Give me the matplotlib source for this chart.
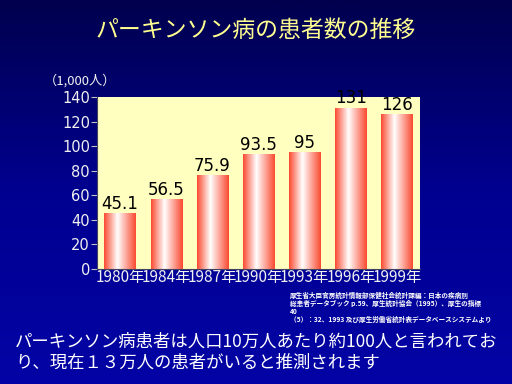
"""Parkinson's disease patient count chart (slide style)."""

import numpy as np
import matplotlib
matplotlib.use("Agg")
import matplotlib.pyplot as plt
from matplotlib.colors import LinearSegmentedColormap

plt.rcParams["font.family"] = ["Noto Sans CJK JP", "DejaVu Sans"]

years = ["1980年", "1984年", "1987年", "1990年", "1993年", "1996年", "1999年"]
patients = [45.1, 56.5, 75.9, 93.5, 95, 131, 126]
value_labels = ["45.1", "56.5", "75.9", "93.5", "95", "131", "126"]
yticks = [0, 20, 40, 60, 80, 100, 120, 140]

title = "パーキンソン病の患者数の推移"
unit = "（1,000人）"
source_lines = [
    "厚生省大臣官房統計情報部保健社会統計課編：日本の疾病別",
    "総患者データブック p.59、厚生統計協会（1995）、厚生の指標",
    "40",
    "（5）：32、1993 及び厚生労働省統計表データベースシステムより",
]
note_lines = [
    "パーキンソン病患者は人口10万人あたり約100人と言われてお",
    "り、現在１３万人の患者がいると推測されます",
]

fig = plt.figure(figsize=(5.12, 3.84), dpi=100)

# slide background: vertical navy gradient
bg = fig.add_axes([0, 0, 1, 1], zorder=-10)
bg_cmap = LinearSegmentedColormap.from_list("bg", ["#00004e", "#000090", "#0404a6"])
bg.imshow(np.linspace(0, 1, 256).reshape(-1, 1), cmap=bg_cmap, aspect="auto",
          extent=[0, 1, 0, 1], origin="upper")
bg.set_axis_off()

# plot area ~ x 97..420, y 97..269 px
ax = fig.add_axes([97 / 512, 1 - 269 / 384, 323 / 512, 172 / 384])
ax.set_facecolor("#ffffc0")

x = np.arange(len(years))
bars = ax.bar(x, patients, width=0.68, color="none", edgecolor="none", zorder=3)

bar_cmap = LinearSegmentedColormap.from_list(
    "bar", [(0, "#fa4a30"), (0.42, "#ffffff"), (1, "#fa4a30")])
grad = np.linspace(0, 1, 128).reshape(1, -1)
for b in bars:
    ax.imshow(grad, cmap=bar_cmap, aspect="auto", zorder=2,
              extent=[b.get_x(), b.get_x() + b.get_width(), 0, b.get_height()])

for xi, v, lab in zip(x, patients, value_labels):
    ax.text(xi, v + 0.5, lab, ha="center", va="bottom", fontsize=12,
            color="black", family="DejaVu Sans", zorder=4, clip_on=False)

ax.set_xlim(-0.5, len(years) - 0.5)
ax.set_ylim(0, 140)
ax.set_yticks(yticks)
ax.set_yticklabels([str(t) for t in yticks], color="#f0f0f0", fontsize=10.5,
                   family="DejaVu Sans")
ax.set_xticks(x)
ax.set_xticklabels(years, color="#f0f0f0", fontsize=11)
ax.tick_params(axis="x", length=0, pad=0)
ax.tick_params(axis="y", length=4, color="#c0c0c0", pad=1)
for side in ("top", "right"):
    ax.spines[side].set_visible(False)
ax.spines["left"].set_color("#404060")
ax.spines["bottom"].set_color("#404060")

fig.text(256 / 512, 1 - 30 / 384, title, ha="center", va="center", fontsize=16.5,
         color="#ffff90")
fig.text(44 / 512, 1 - 81 / 384, unit, ha="left", va="center", fontsize=9.5,
         color="#f0f0f0")

for i, line in enumerate(source_lines):
    fig.text(290 / 512, 1 - (295 + 8 * i) / 384, line, ha="left", va="center",
             fontsize=4.8, color="white", weight="bold")

for i, line in enumerate(note_lines):
    fig.text(15 / 512, 1 - (342 + 21 * i) / 384, line, ha="left", va="center",
             fontsize=12.5, color="white")

fig.savefig("out.png", dpi=100)
